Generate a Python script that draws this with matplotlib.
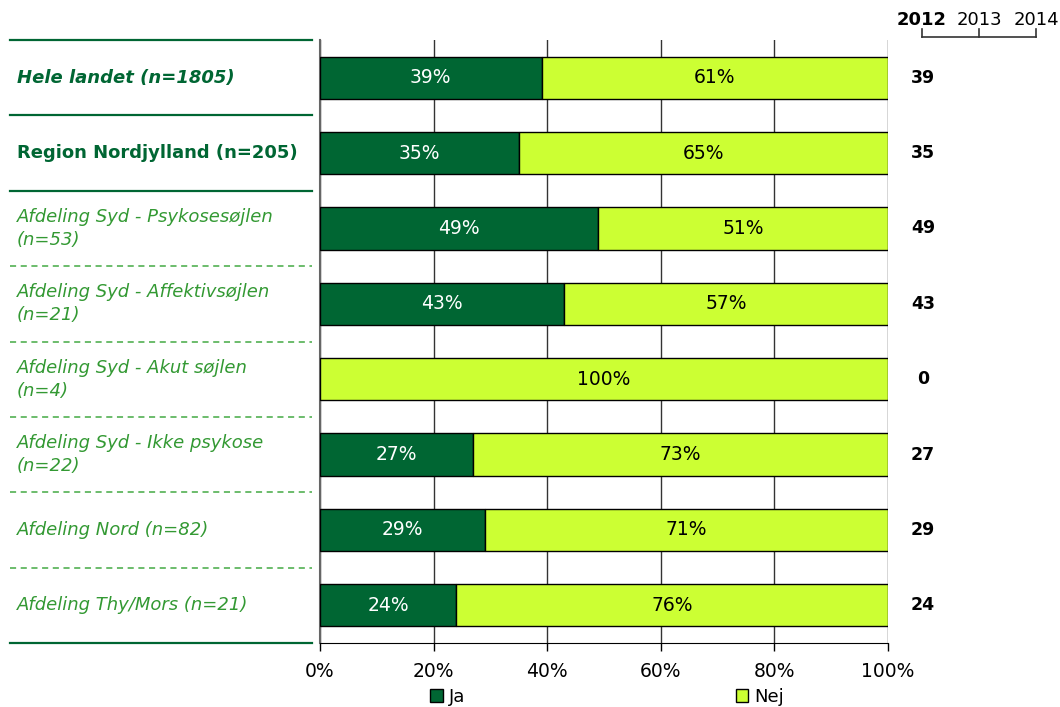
import matplotlib
matplotlib.use("Agg")
import matplotlib.pyplot as plt
import matplotlib.transforms as mtransforms
from matplotlib.lines import Line2D
from matplotlib.patches import Patch

categories = [
    "Hele landet (n=1805)",
    "Region Nordjylland (n=205)",
    "Afdeling Syd - Psykosesøjlen\n(n=53)",
    "Afdeling Syd - Affektivsøjlen\n(n=21)",
    "Afdeling Syd - Akut søjlen\n(n=4)",
    "Afdeling Syd - Ikke psykose\n(n=22)",
    "Afdeling Nord (n=82)",
    "Afdeling Thy/Mors (n=21)",
]
ja = [39, 35, 49, 43, 0, 27, 29, 24]
nej = [61, 65, 51, 57, 100, 73, 71, 76]
values_2012 = ["39", "35", "49", "43", "0", "27", "29", "24"]
years = ["2012", "2013", "2014"]
xticks = [0, 20, 40, 60, 80, 100]
xticklabels = ["0%", "20%", "40%", "60%", "80%", "100%"]

DARK = "#006633"
LIME = "#CCFF33"
LABEL_DARK = "#006633"
LABEL_LIGHT = "#339933"

plt.rcParams['font.family'] = ['DejaVu Sans']

fig = plt.figure(figsize=(10.6, 7.07), dpi=100)
ax = fig.add_axes([320/1060, 64/707, 568/1060, 603/707])

n = len(categories)
ypos = list(range(n))
bh = 0.56
ax.barh(ypos, ja, height=bh, color=DARK, edgecolor="black", linewidth=1, zorder=3, label="Ja")
ax.barh(ypos, nej, left=ja, height=bh, color=LIME, edgecolor="black", linewidth=1, zorder=3, label="Nej")

for i in range(n):
    if ja[i] > 0:
        ax.text(ja[i] / 2, i, f"{ja[i]}%", ha="center", va="center", color="white", fontsize=13.5, zorder=4)
    if nej[i] > 0:
        ax.text(ja[i] + nej[i] / 2, i, f"{nej[i]}%", ha="center", va="center", color="black", fontsize=13.5, zorder=4)

ax.set_xlim(0, 100)
ax.set_ylim(n - 0.5, -0.5)
ax.set_xticks(xticks)
ax.set_xticklabels(xticklabels, fontsize=13.5)
ax.set_yticks([])
ax.tick_params(axis="x", direction="out", length=6, width=1, pad=8)
ax.grid(axis="x", color="#333333", linewidth=1, zorder=0)
for s in ["top", "right"]:
    ax.spines[s].set_visible(False)
ax.spines["left"].set_color("#666666")
ax.spines["left"].set_linewidth(1.5)
ax.spines["bottom"].set_color("black")

# left labels and separators
bt = mtransforms.blended_transform_factory(fig.transFigure, ax.transData)
x0, x1 = 10/1060, 312/1060
solid_bounds = [-0.5, 0.5, 1.5, n - 0.5]
dashed_bounds = [2.5, 3.5, 4.5, 5.5, 6.5]
for b in solid_bounds:
    fig.add_artist(Line2D([x0, x1], [b, b], transform=bt, color=DARK, linewidth=1.6))
for b in dashed_bounds:
    fig.add_artist(Line2D([x0, x1], [b, b], transform=bt, color="#44AA44", linewidth=1.1,
                          linestyle=(0, (4, 3))))

for i, cat in enumerate(categories):
    if i == 0:
        kw = dict(color=LABEL_DARK, fontweight="bold", fontstyle="italic")
    elif i == 1:
        kw = dict(color=LABEL_DARK, fontweight="bold")
    else:
        kw = dict(color=LABEL_LIGHT, fontstyle="italic")
    fig.text(17/1060, i, cat, transform=bt, ha="left", va="center", fontsize=13,
             linespacing=1.35, **kw)

# right values
for i, v in enumerate(values_2012):
    fig.text(923/1060, i, v, transform=bt, ha="center", va="center", fontsize=12.5,
             fontweight="bold", color="black")

# header years
yx = [922, 979, 1036]
for j, (yr, xx) in enumerate(zip(years, yx)):
    fig.text(xx/1060, 1 - 20/707, yr, ha="center", va="center", fontsize=13,
             fontweight="bold" if j == 0 else "normal", color="black")
fig.add_artist(Line2D([922/1060, 1036/1060], [1 - 37/707, 1 - 37/707], transform=fig.transFigure,
                      color="#333333", linewidth=1.2))
for xx in yx:
    fig.add_artist(Line2D([xx/1060, xx/1060], [1 - 29/707, 1 - 37/707], transform=fig.transFigure,
                          color="#333333", linewidth=1.2))

# legend
handles = [Patch(facecolor=DARK, edgecolor="black", label="Ja"),
           Patch(facecolor=LIME, edgecolor="black", label="Nej")]
fig.legend(handles=handles, loc="center", bbox_to_anchor=(607/1060, 1 - 697/707), ncol=2,
           frameon=False, fontsize=13, handlelength=0.7, handleheight=0.7,
           handletextpad=0.3, columnspacing=15)

fig.savefig("out.png", dpi=100)
